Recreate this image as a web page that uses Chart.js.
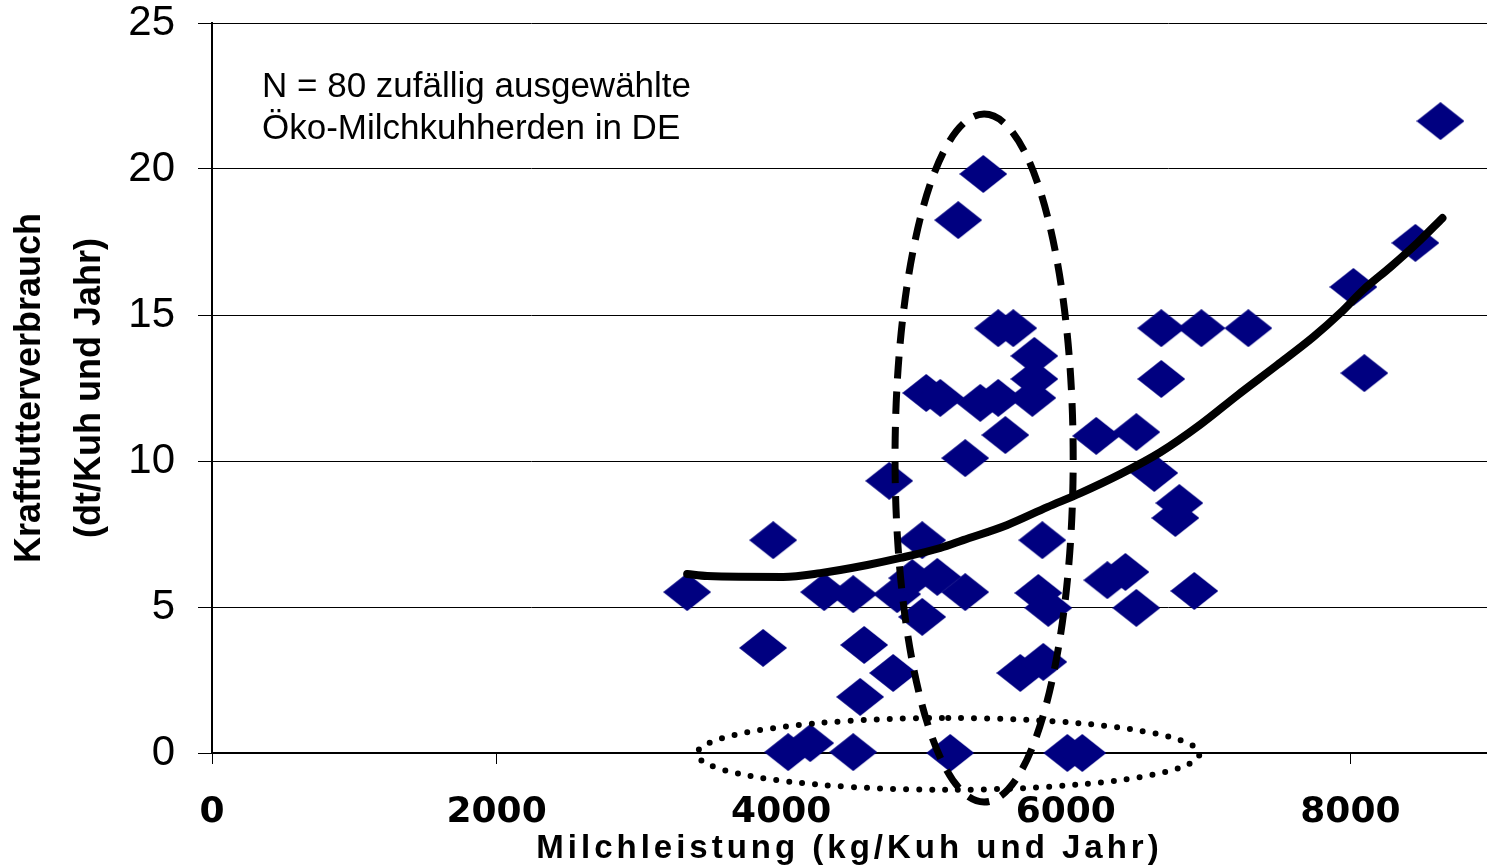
<!DOCTYPE html>
<html><head><meta charset="utf-8">
<script src="https://cdn.jsdelivr.net/npm/chart.js@4"></script>
<style>html,body{margin:0;padding:0;background:#fff;overflow:hidden}#wrap{width:1487px;height:865px;position:relative}</style>
</head><body><div id="wrap"><canvas id="c" width="1487" height="865"></canvas></div>
<script>
// Milchleistung (kg/Kuh und Jahr) of each herd
const milkYield = [3339,3873,3944,4049,4204,4302,4506,4506,4555,4583,4759,4787,4815,4921,4991,4991,5019,5097,5118,5188,5244,5293,5293,5399,5420,5525,5525,5575,5631,5680,5765,5779,5779,5807,5835,5842,5877,6011,6116,6214,6292,6419,6496,6496,6622,6671,6671,6770,6798,6903,6953,7283,8021,8098,8457,8633];
// Kraftfutterverbrauch (dt/Kuh und Jahr) of each herd
const concentrate = [5.51,3.60,7.29,0.03,0.34,5.51,5.44,0.03,1.92,3.70,9.32,2.74,5.44,5.99,7.29,4.66,12.33,6.03,12.16,0,18.25,10.10,5.51,11.99,19.83,14.55,12.16,10.89,14.55,2.74,12.16,12.81,13.60,5.48,7.29,3.12,4.97,0,0,10.86,5.92,6.20,10.99,4.97,9.59,14.55,12.81,8.05,8.56,5.55,14.55,14.55,15.96,13.01,17.47,21.64];
// trend curve
const trendX = [3339,3480,4014,4274,4605,4837,5118,5279,5589,5870,6102,6383,6664,6946,7206,7487,7740,7930,8091,8281,8471,8647];
const trendY = [6.13,6.06,6.03,6.16,6.44,6.68,7.02,7.29,7.81,8.42,8.90,9.55,10.30,11.25,12.25,13.29,14.25,15.07,15.86,16.64,17.47,18.32];
const xTicks = [0,2000,4000,6000,8000];
const yTicks = [0,5,10,15,20,25];
const noteLines = ['N = 80 zufällig ausgewählte','Öko-Milchkuhherden in DE'];
const xTitle = 'Milchleistung (kg/Kuh und Jahr)';
const yTitle = ['Kraftfutterverbrauch','(dt/Kuh und Jahr)'];
// highlighted regions [centre x, centre y, radius x, radius y] in data units
const dashedRegion = [5426, 10.10, 626, 11.78];
const dottedRegion = [5174, -0.03, 1765, 1.23];

const NAVY = '#000080';
const diamond = document.createElement('canvas');
diamond.width = 48; diamond.height = 38;
(function(){
  const g = diamond.getContext('2d');
  g.fillStyle = NAVY;
  g.beginPath(); g.moveTo(24,0); g.lineTo(48,19); g.lineTo(24,38); g.lineTo(0,19); g.closePath(); g.fill();
})();

const SANS = "'Liberation Sans', Arial, sans-serif";

const overlay = {
  id: 'overlay',
  afterDatasetsDraw(chart) {
    const ctx = chart.ctx, xs = chart.scales.x, ys = chart.scales.y, ca = chart.chartArea;
    function ell(e) {
      const cx = xs.getPixelForValue(e[0]), cy = ys.getPixelForValue(e[1]);
      const rx = xs.getPixelForValue(e[0] + e[2]) - cx;
      const ry = cy - ys.getPixelForValue(e[1] + e[3]);
      ctx.beginPath(); ctx.ellipse(cx, cy, rx, ry, 0, -Math.PI/2, Math.PI*1.5); ctx.stroke();
    }
    ctx.save();
    ctx.strokeStyle = '#000';
    ctx.lineWidth = 7; ctx.lineCap = 'butt'; ctx.setLineDash([22,13]);
    ell(dashedRegion);
    ctx.lineWidth = 6; ctx.lineCap = 'round'; ctx.setLineDash([0,13]);
    ell(dottedRegion);
    ctx.setLineDash([]);
    ctx.fillStyle = '#000';
    ctx.font = '35px ' + SANS;
    ctx.textBaseline = 'alphabetic'; ctx.textAlign = 'left';
    ctx.fillText(noteLines[0], ca.left + 50, ca.top + 74);
    ctx.fillText(noteLines[1], ca.left + 50, ca.top + 116);
    ctx.restore();
  }
};

new Chart(document.getElementById('c'), {
  type: 'scatter',
  data: {
    datasets: [
      {
        label: 'Trend',
        data: trendX.map((x,i)=>({x, y: trendY[i]})),
        showLine: true,
        borderColor: '#000',
        borderWidth: 8,
        borderCapStyle: 'round',
        borderJoinStyle: 'round',
        cubicInterpolationMode: 'monotone',
        pointRadius: 0,
        pointHoverRadius: 0,
        fill: false
      },
      {
        label: 'Herden',
        data: milkYield.map((x,i)=>({x, y: concentrate[i]})),
        pointStyle: diamond,
        pointRadius: 20,
        pointHoverRadius: 20,
        backgroundColor: NAVY,
        borderColor: NAVY,
        clip: false
      }
    ]
  },
  options: {
    responsive: false,
    devicePixelRatio: 1,
    animation: false,
    events: [],
    layout: { autoPadding: false, padding: 0 },
    plugins: { legend: { display: false }, tooltip: { enabled: false } },
    scales: {
      x: {
        type: 'linear', min: 0, max: 8960,
        afterBuildTicks: s => { s.ticks = xTicks.map(v => ({ value: v })); },
        grid: { drawOnChartArea: false, drawTicks: true, tickLength: 11, color: '#000', lineWidth: 1 },
        border: { display: true, color: '#000', width: 2 },
        ticks: { font: { family: "'DejaVu Sans', sans-serif", weight: 'bold', size: 36 }, color: '#000', padding: 27, maxRotation: 0, autoSkip: false, callback: v => String(v) },
        title: { display: true, text: xTitle, color: '#000', padding: 0, font: { family: SANS, weight: 'bold', size: 33, lineHeight: 1 } },
        afterFit: s => { s.height = 112; s.paddingRight = 0; },
        afterUpdate: s => {
          if (!s.__ls) {
            const orig = s.drawTitle;
            s.drawTitle = function (...a) { const c = this.ctx; c.save(); c.letterSpacing = '4px'; orig.apply(this, a); c.restore(); };
            s.__ls = true;
          }
        }
      },
      y: {
        type: 'linear', min: 0, max: 25,
        afterBuildTicks: s => { s.ticks = yTicks.map(v => ({ value: v })); },
        grid: { drawOnChartArea: true, drawTicks: true, tickLength: 14, color: '#000', lineWidth: 1 },
        border: { display: true, color: '#000', width: 2 },
        ticks: { font: { family: SANS, size: 42, lineHeight: 1 }, color: '#000', padding: 23 },
        title: { display: true, text: yTitle, color: '#000', padding: 0, font: { family: SANS, weight: 'bold', size: 36, lineHeight: 1.667 } },
        afterFit: s => { s.width = 212; s.paddingTop = 23; s.paddingBottom = 0; }
      }
    }
  },
  plugins: [overlay]
});
</script>
</body></html>
